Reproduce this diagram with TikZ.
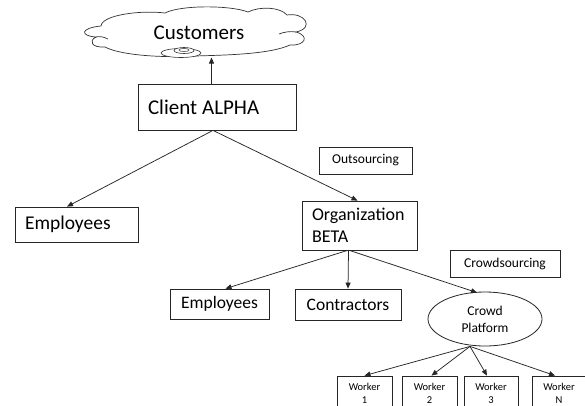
\documentclass[tikz,border=0pt]{standalone}
\usepackage{fontspec}
\setmainfont{Carlito}
\usetikzlibrary{arrows.meta,calc,shapes.geometric}
\begin{document}
\begin{tikzpicture}[x=1pt,y=-1pt,
  line width=0.7pt,
  box/.style={draw=black!85, line width=0.8pt, rectangle, inner sep=0pt},
  arr/.style={draw=black!85, line width=0.75pt, -{Triangle[length=6pt,width=5pt]}},
  big/.style={font=\fontsize{21}{25}\selectfont},
  mid/.style={font=\fontsize{18}{22}\selectfont},
  low/.style={font=\fontsize{17.5}{21}\selectfont},
  small/.style={font=\fontsize{13.5}{17}\selectfont},
  tiny/.style={font=\fontsize{10.5}{13}\selectfont}]
\useasboundingbox (0,0) rectangle (585,405);
% cloud
\draw[draw=black!80, line width=0.7pt, fill=white]
  (105,47) .. controls (92,48) and (88,41) .. (96,37)
  .. controls (80,36) and (80,28) .. (101,26)
  .. controls (102,15) and (140,10) .. (165,13)
  .. controls (180,5) and (230,5) .. (248,12)
  .. controls (260,6) and (280,7) .. (287,15)
  .. controls (305,12) and (315,28) .. (296,32)
  .. controls (310,36) and (305,46) .. (290,45)
  .. controls (270,54) and (230,55) .. (195,56)
  .. controls (160,58) and (120,55) .. (105,47) -- cycle;
\draw[draw=black!80, line width=0.7pt] (96,37) .. controls (100,36) and (104,37) .. (108,39);
\draw[draw=black!80, line width=0.7pt] (296,32) .. controls (290,31) and (284,32) .. (279,34);
\draw[draw=black!80, line width=0.6pt, fill=white] (181,53) ellipse [x radius=20, y radius=4.5];
\draw[draw=black!80, line width=0.6pt, fill=white] (184,50.5) ellipse [x radius=10, y radius=3];
\draw[draw=black!80, line width=0.5pt] (184,50) ellipse [x radius=5, y radius=1.6];
\node[big] (cust) at (199,33) {Customers};
\coordinate (cloudbot) at (211.5,57.5);
% boxes
\node[box, big, minimum width=158, minimum height=46, text width=138, inner xsep=10, align=left] (alpha) at (217,107) {Client\hspace{-2pt} ALPHA};
\node[box, font=\fontsize{19.5}{23}\selectfont, minimum width=123, minimum height=35, text width=103, inner xsep=10, align=left] (emp1) at (76.5,224.5) {Employees};
\node[box, small, minimum width=93, minimum height=27] (outs) at (365.5,160.5) {Outsourcing};
\node[box, mid, minimum width=115, minimum height=49, text width=95, inner xsep=10, align=left] (beta) at (359.5,225.5) {Organization\\BETA};
\node[box, small, minimum width=110, minimum height=27] (crowds) at (505,263.5) {Crowdsourcing};
\node[box, low, minimum width=99, minimum height=30] (emp2) at (219.5,304) {Employees};
\node[box, low, minimum width=106, minimum height=31] (contr) at (348,304.5) {Contractors};
\node[draw=black!85, line width=0.8pt, ellipse, inner sep=0pt, minimum width=114, minimum height=54, small, align=center] (crowdp) at (485,319) {Crowd\\Platform};
\node[box, tiny, minimum width=55, minimum height=35, align=center] (w1) at (364.5,393.5) {Worker\\1};
\node[box, tiny, minimum width=55, minimum height=35, align=center] (w2) at (429.5,393.5) {Worker\\2};
\node[box, tiny, minimum width=54, minimum height=35, align=center] (w3) at (491,393.5) {Worker\\3};
\node[box, tiny, minimum width=54, minimum height=35, align=center] (wn) at (559,393.5) {Worker\\N};
% connectors
\draw[arr] (alpha.north -| cloudbot) -- (cloudbot);
\draw[arr] ($(alpha.south)+(-4,0)$) -- ($(emp1.north)+(-9.5,0)$);
\draw[arr] ($(alpha.south)+(-4,0)$) -- ($(beta.north)+(-2,0)$);
\draw[arr] ($(beta.south)+(-12,0)$) -- ($(emp2.north)+(6,0)$);
\draw[arr] ($(beta.south)+(-11,0)$) -- (contr.north);
\draw[arr] ($(beta.south)+(-10,0)$) -- ($(crowdp.north)+(-8,1)$);
\coordinate (cpb) at ($(crowdp.south)+(-15,0)$);
\draw[arr] (cpb) -- (w1.north);
\draw[arr] (cpb) -- ($(w2.north)+(2,0)$);
\draw[arr] (cpb) -- ($(w3.north)+(-4,0)$);
\draw[arr] (cpb) -- ($(wn.north)+(-4,0)$);
\end{tikzpicture}
\end{document}
